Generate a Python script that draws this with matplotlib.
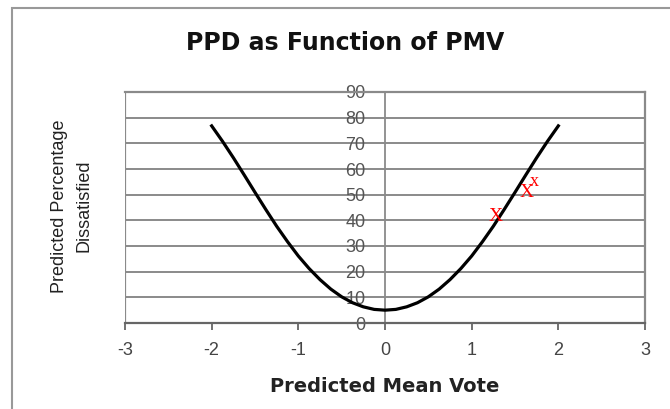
import matplotlib.pyplot as plt
from matplotlib.patches import Rectangle

# PMV vs PPD curve
pmv = [-2.0, -1.875, -1.75, -1.625, -1.5, -1.375, -1.25, -1.125, -1.0,
       -0.875, -0.75, -0.625, -0.5, -0.375, -0.25, -0.125, 0.0,
       0.125, 0.25, 0.375, 0.5, 0.625, 0.75, 0.875, 1.0,
       1.125, 1.25, 1.375, 1.5, 1.625, 1.75, 1.875, 2.0]
ppd = [76.8, 70.8, 64.4, 57.7, 50.9, 44.2, 37.7, 31.7, 26.1,
       21.2, 16.9, 13.2, 10.2, 7.9, 6.3, 5.3, 5.0,
       5.3, 6.3, 7.9, 10.2, 13.2, 16.9, 21.2, 26.1,
       31.7, 37.7, 44.2, 50.9, 57.7, 64.4, 70.8, 76.8]

# red "x" marks
mark_x = [1.28, 1.64, 1.72]
mark_y = [41.3, 51.0, 55.3]
mark_txt = ['X', 'X', 'x']

yticks = [0, 10, 20, 30, 40, 50, 60, 70, 80, 90]
xticks = [-3, -2, -1, 0, 1, 2, 3]

plt.rcParams['font.family'] = ['Liberation Sans', 'DejaVu Sans']
plt.rcParams['axes.unicode_minus'] = False
fig = plt.figure(figsize=(6.7, 4.09), dpi=100)
fig.patches.append(Rectangle((12/670, -0.1), 1.0, 1 - 8/409 + 0.1, transform=fig.transFigure,
                             fill=False, edgecolor='#999999', linewidth=1.5))

ax = fig.add_axes([125/670, 1 - 323/409, 520/670, 231/409])
ax.set_xlim(-3, 3)
ax.set_ylim(0, 90)

for yv in yticks[1:]:
    ax.axhline(yv, color='#8a8a8a', linewidth=1.4, zorder=1)
ax.axvline(-3, color='#8a8a8a', linewidth=1.6, zorder=1)

ax.plot(pmv, ppd, color='black', linewidth=2.3, zorder=3, solid_joinstyle='round')
for mx, my, t in zip(mark_x, mark_y, mark_txt):
    ax.text(mx, my, t, color='red', fontsize=14 if t == 'X' else 13,
            family='Liberation Serif', ha='center', va='center', zorder=4)

for s in ['top', 'right']:
    ax.spines[s].set_color('#8a8a8a')
    ax.spines[s].set_linewidth(1.6)
ax.spines['left'].set_position(('data', 0))
ax.spines['left'].set_color('#8a8a8a')
ax.spines['left'].set_linewidth(1.3)
ax.spines['bottom'].set_color('#666666')
ax.spines['bottom'].set_linewidth(1.6)

ax.set_yticks(yticks)
ax.set_xticks(xticks)
ax.tick_params(axis='y', length=0, pad=14, labelsize=13, labelcolor='#555555')
ax.tick_params(axis='x', length=5, width=1.3, color='#666666', pad=9,
               labelsize=13, labelcolor='#444444')

ax.set_xlabel('Predicted Mean Vote', fontsize=14, fontweight='bold', labelpad=13,
              family='DejaVu Sans', color='#222222')
fig.text(72/670, 1 - 206/409, 'Predicted Percentage\nDissatisfied', rotation=90,
         ha='center', va='center', fontsize=13, linespacing=1.55, color='#222222')
fig.text(345/670, 1 - 43/409, 'PPD as Function of PMV', ha='center', va='center',
         fontsize=17, fontweight='bold', family='DejaVu Sans', color='#111111')

fig.savefig('out.png', dpi=100)
